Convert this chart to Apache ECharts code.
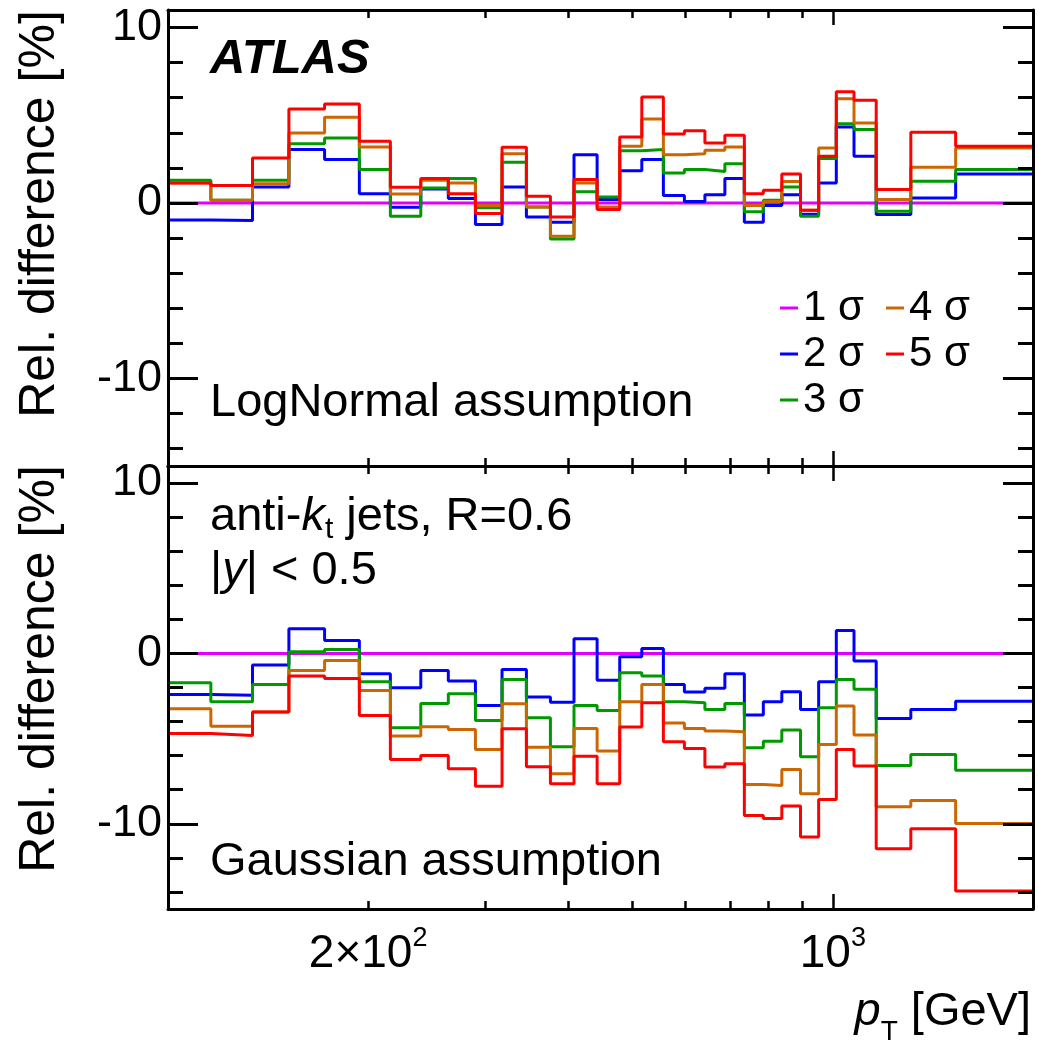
<!DOCTYPE html>
<html>
<head>
<meta charset="utf-8">
<script src="https://cdn.jsdelivr.net/npm/echarts@6/dist/echarts.min.js"></script>
<style>
    html, body { margin: 0; padding: 0; background: #fff; }
    #chart { width: 1038px; height: 1044px; }
</style>
</head>
<body>
<div id="chart"></div>
<script>
// bin edges in pT [GeV]
var edges = [100, 116, 134, 152, 172, 194, 216, 240, 264, 290, 318, 346, 376, 408, 442, 478, 516,
    556, 598, 642, 688, 736, 786, 838, 894, 952, 1012, 1076, 1162, 1310, 1530, 2000];

var sigmaNames = ['1 σ', '2 σ', '3 σ', '4 σ', '5 σ'];

// LogNormal assumption (upper panel)
var logNormal1 = [0, 0, 0, 0, 0, 0, 0, 0, 0, 0, 0, 0, 0, 0, 0, 0, 0, 0, 0, 0, 0, 0, 0, 0, 0, 0, 0, 0, 0, 0, 0];
var logNormal2 = [-0.97, -1.0, 0.91, 3.04, 2.47, 0.53, -0.25, 0.8, 0.25, -1.23, 0.91, -0.8, -1.1, 2.75, 0.2, 1.84,
    2.47, 0.42, 0.08, 0.46, 1.39, -1.1, -0.15, 0.47, -0.65, 1.14, 4.33, 2.66, -0.66, 0.28, 1.65];
var logNormal3 = [1.29, 0.15, 1.29, 3.38, 3.7, 1.9, -0.76, 0.85, 1.39, -0.28, 2.32, -0.23, -2.05, 0.63, 0.34, 2.98,
    3.04, 1.71, 1.9, 1.79, 2.24, -0.51, 0.15, 0.91, -0.76, 2.53, 4.52, 4.18, -0.47, 1.23, 1.9];
var logNormal4 = [1.14, 0.15, 1.1, 3.99, 4.88, 3.19, 0.51, 1.29, 1.14, -0.15, 2.81, -0.23, -1.9, 1.14, -0.23, 3.23,
    4.79, 2.74, 2.81, 3.0, 3.19, -0.15, 0.08, 1.22, -0.42, 3.13, 5.94, 4.56, 0.19, 2.03, 3.13];
var logNormal5 = [1.14, 1.0, 2.56, 5.36, 5.64, 3.51, 0.89, 1.39, 0.53, -0.61, 3.17, 0.38, -0.8, 1.33, -0.38, 3.76,
    6.04, 3.93, 4.12, 3.42, 3.86, 0.53, 0.72, 1.65, -0.42, 2.66, 6.34, 5.85, 0.76, 4.03, 3.23];

// Gaussian assumption (lower panel)
var gauss1 = [0, 0, 0, 0, 0, 0, 0, 0, 0, 0, 0, 0, 0, 0, 0, 0, 0, 0, 0, 0, 0, 0, 0, 0, 0, 0, 0, 0, 0, 0, 0];
var gauss2 = [-2.41, -2.45, -0.68, 1.45, 0.76, -1.19, -2.02, -1.0, -1.62, -3.05, -0.94, -2.56, -2.86, 0.86, -1.57, -0.2,
    0.29, -1.82, -2.27, -2.05, -1.19, -3.62, -2.84, -2.25, -3.29, -1.66, 1.35, -0.45, -3.82, -3.29, -2.8];
var gauss3 = [-1.72, -2.84, -1.82, 0.1, 0.23, -1.66, -4.36, -2.94, -2.37, -3.93, -1.53, -3.78, -5.48, -3.05, -3.35, -1.14,
    -1.33, -2.84, -2.9, -3.29, -2.94, -5.54, -5.15, -4.5, -6.07, -3.19, -1.53, -2.11, -6.58, -5.93, -6.85];
var gauss4 = [-3.25, -4.27, -3.44, -1.0, -0.41, -2.17, -4.85, -4.31, -4.46, -5.64, -2.95, -5.5, -7.06, -4.4, -5.73, -2.84,
    -1.82, -4.09, -4.4, -4.56, -4.6, -7.69, -7.75, -6.81, -8.24, -5.34, -3.09, -4.79, -9.0, -8.63, -9.98];
var gauss5 = [-4.7, -4.81, -3.44, -1.33, -1.47, -3.64, -6.22, -5.99, -6.77, -7.79, -4.42, -6.65, -7.65, -6.03, -7.65, -4.32,
    -2.9, -5.19, -5.58, -6.67, -6.48, -9.51, -9.69, -8.96, -10.78, -8.57, -5.64, -6.61, -11.47, -10.29, -13.95];

// axis ticks and labels
var xMinorTicks = [200, 300, 400, 500, 600, 700, 800, 900, 1000];
var xMajorTicks = [1000];
var xLabelValues = [200, 1000];
var xLabelMantissa = ['2×10', '10'];
var xLabelExponent = ['2', '3'];
var yMajorTicks = [-10, 0, 10];
var yMinorTicks = [-14, -12, -10, -8, -6, -4, -2, 0, 2, 4, 6, 8, 10];

(function (win, echarts) {
    var FONT = 'Liberation Sans',
        colors = ['#e100ff', '#0000ff', '#009900', '#cc6600', '#ff0000'],
        chart = echarts.init(document.getElementById('chart'), null, { renderer: 'canvas' });

    var grids = [
        { left: 168, top: 10, width: 865, height: 456, outerBoundsMode: 'none' },
        { left: 168, top: 466, width: 865, height: 443, outerBoundsMode: 'none' }
    ];

    //阶梯数据
    function stepData(vals) {
        var pts = vals.map(function (v, i) {
            return [edges[i], v];
        });
        pts.push([edges[edges.length - 1], vals[vals.length - 1]]);
        return pts;
    }

    function xAxisPair(gridIndex, position, withLabels) {
        var base = {
            gridIndex: gridIndex,
            type: 'log',
            logBase: 10,
            min: 100,
            max: 2000,
            position: position,
            z: 10,
            splitLine: { show: false },
            minorTick: { show: false }
        };
        return [
            Object.assign({}, base, {
                axisLine: { show: true, onZero: false, lineStyle: { color: '#000', width: 3 } },
                axisTick: { show: true, inside: true, length: 8, customValues: xMinorTicks, lineStyle: { color: '#000', width: 2.5 } },
                axisLabel: {
                    show: withLabels,
                    customValues: xLabelValues,
                    margin: 16,
                    formatter: function (value) {
                        var k = xLabelValues.indexOf(Math.round(value));
                        if (k < 0) return '';
                        return '{m|' + xLabelMantissa[k] + '}{e|' + xLabelExponent[k] + '}';
                    },
                    rich: {
                        m: { fontSize: 46, fontFamily: FONT, color: '#000', padding: [6, 0, 0, 0] },
                        e: { fontSize: 27, fontFamily: FONT, color: '#000', padding: [0, 0, 26, 0] }
                    }
                }
            }),
            Object.assign({}, base, {
                axisLine: { show: false, onZero: false },
                axisTick: { show: true, inside: true, length: 15, customValues: xMajorTicks, lineStyle: { color: '#000', width: 2.5 } },
                axisLabel: { show: false }
            })
        ];
    }

    function yAxisPair(gridIndex, position) {
        var base = {
            gridIndex: gridIndex,
            type: 'value',
            min: -15,
            max: 11,
            position: position,
            z: 10,
            splitLine: { show: false }
        };
        return [
            Object.assign({}, base, {
                axisLine: { show: true, onZero: false, lineStyle: { color: '#000', width: 3 } },
                axisTick: { show: true, inside: true, length: 30, customValues: yMajorTicks, lineStyle: { color: '#000', width: 3 } },
                axisLabel: {
                    show: position === 'left',
                    customValues: yMajorTicks,
                    margin: 6,
                    fontSize: 45,
                    fontFamily: FONT,
                    color: '#000'
                }
            }),
            Object.assign({}, base, {
                axisLine: { show: false, onZero: false },
                axisTick: { show: true, inside: true, length: 15, customValues: yMinorTicks, lineStyle: { color: '#000', width: 3 } },
                axisLabel: { show: false }
            })
        ];
    }

    var xAxes = [].concat(
        xAxisPair(0, 'bottom', false), xAxisPair(0, 'top', false),
        xAxisPair(1, 'bottom', true), xAxisPair(1, 'top', false)
    );
    var yAxes = [].concat(
        yAxisPair(0, 'left'), yAxisPair(0, 'right'),
        yAxisPair(1, 'left'), yAxisPair(1, 'right')
    );

    var panels = [
        { axis: 0, data: [logNormal1, logNormal2, logNormal3, logNormal4, logNormal5] },
        { axis: 4, data: [gauss1, gauss2, gauss3, gauss4, gauss5] }
    ];

    var series = [];
    panels.forEach(function (p) {
        p.data.forEach(function (vals, k) {
            series.push({
                name: sigmaNames[k],
                type: 'line',
                step: 'end',
                xAxisIndex: p.axis,
                yAxisIndex: p.axis,
                data: stepData(vals),
                symbol: 'none',
                color: colors[k],
                lineStyle: { color: colors[k], width: 3 },
                z: 2 + k,
                silent: true,
                animation: false
            });
        });
    });

    var legendBase = {
        orient: 'vertical',
        top: 280,
        icon: 'rect',
        itemWidth: 18,
        itemHeight: 3,
        itemGap: 0,
        selectedMode: false,
        textStyle: { fontSize: 42, fontFamily: FONT, color: '#000', lineHeight: 46 }
    };

    function text(x, y, str, opts) {
        return {
            type: 'text',
            x: x,
            y: y,
            rotation: opts.rotation || 0,
            z: 20,
            style: Object.assign({
                text: str,
                fontSize: 47,
                fontFamily: FONT,
                fill: '#000',
                align: 'left',
                verticalAlign: 'middle'
            }, opts.style || {})
        };
    }

    var graphics = [
        text(210, 59, 'ATLAS', { style: { fontSize: 49, fontWeight: 'bold', fontStyle: 'italic' } }),
        text(210, 403, 'LogNormal assumption', {}),
        text(210, 517, '{n|anti-}{i|k}{s|t}{n| jets, R=0.6}', {
            style: {
                rich: {
                    n: { fontSize: 47, fontFamily: FONT },
                    i: { fontSize: 47, fontFamily: FONT, fontStyle: 'italic' },
                    s: { fontSize: 30, fontFamily: FONT, padding: [26, 0, 0, 0] }
                }
            }
        }),
        text(210, 571, '{n||}{i|y}{n|| < 0.5}', {
            style: {
                rich: {
                    n: { fontSize: 47, fontFamily: FONT },
                    i: { fontSize: 47, fontFamily: FONT, fontStyle: 'italic' }
                }
            }
        }),
        text(210, 862, 'Gaussian assumption', {}),
        text(1031, 1012, '{i|p}{s|T}{n| [GeV]}', {
            style: {
                align: 'right',
                rich: {
                    n: { fontSize: 47, fontFamily: FONT },
                    i: { fontSize: 47, fontFamily: FONT, fontStyle: 'italic' },
                    s: { fontSize: 28, fontFamily: FONT, padding: [40, 0, 0, 0] }
                }
            }
        }),
        text(40, 214, 'Rel. difference [%]', { rotation: Math.PI / 2, style: { fontSize: 50, align: 'center' } }),
        text(40, 669, 'Rel. difference [%]', { rotation: Math.PI / 2, style: { fontSize: 50, align: 'center' } })
    ];

    chart.setOption({
        backgroundColor: '#fff',
        animation: false,
        grid: grids,
        xAxis: xAxes,
        yAxis: yAxes,
        legend: [
            Object.assign({}, legendBase, { left: 775, data: sigmaNames.slice(0, 3) }),
            Object.assign({}, legendBase, { left: 881, data: sigmaNames.slice(3) })
        ],
        graphic: graphics,
        series: series
    });
})(this, echarts);
</script>
</body>
</html>
